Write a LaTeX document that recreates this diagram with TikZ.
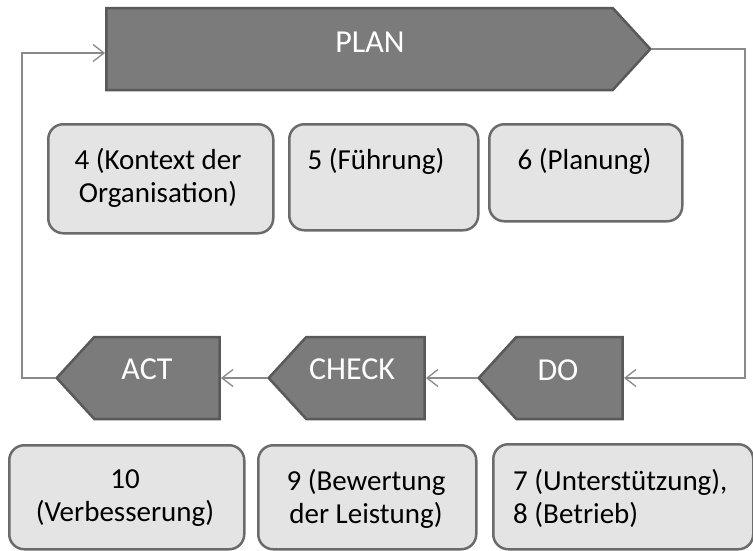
\documentclass[tikz,border=0pt]{standalone}
\usepackage{fontspec}
\setmainfont{Carlito}
\usetikzlibrary{shapes.symbols,arrows.meta}
\definecolor{sigfill}{HTML}{7B7B7B}
\definecolor{sigline}{HTML}{595959}
\definecolor{boxfill}{HTML}{E4E4E4}
\definecolor{boxline}{HTML}{6B6B6B}
\definecolor{conn}{HTML}{8A8A8A}
\tikzset{
  sig/.style={signal, draw=sigline, fill=sigfill, line width=2.5pt, inner sep=0pt,
    minimum height=82pt, signal pointer angle=95},
  sigtext/.style={text=white, font=\fontsize{32}{36}\selectfont, inner sep=0pt, anchor=base},
  clause/.style={draw=boxline, fill=boxfill, line width=2.5pt, rounded corners=15pt,
    inner sep=0pt, anchor=north west},
  clausetext/.style={font=\fontsize{29}{33}\selectfont, inner sep=0pt, anchor=north, align=center},
  conn/.style={draw=conn, line width=1.3pt, -{Straight Barb[length=11pt,width=17pt,line width=1.3pt]}}
}
\begin{document}
\begin{tikzpicture}[x=1pt,y=-1pt]
\useasboundingbox (0,0) rectangle (753,550);
% PDCA signals
\node[sig, signal to=east, minimum width=544pt, anchor=east] (plan) at (652,49) {};
\node[sig, signal to=west, minimum width=144pt, anchor=west] (do) at (477,378) {};
\node[sig, signal to=west, minimum width=156pt, anchor=west] (check) at (267,378) {};
\node[sig, signal to=west, minimum width=163pt, anchor=west] (act) at (55,378) {};
\node[sigtext] (plant) at (370,52) {PLAN};
\node[sigtext] (dot) at (558,380) {DO};
\node[sigtext] (checkt) at (352,379) {CHECK};
\node[sigtext] (actt) at (147,379) {ACT};
% clause boxes
\node[clause, minimum width=225pt, minimum height=109pt] (b4) at (47,123) {};
\node[clause, minimum width=189pt, minimum height=106pt] (b5) at (288,123) {};
\node[clause, minimum width=193pt, minimum height=97pt] (b6) at (488,123) {};
\node[clause, minimum width=235pt, minimum height=104pt] (b10) at (8,444) {};
\node[clause, minimum width=218pt, minimum height=104pt] (b9) at (257,444) {};
\node[clause, minimum width=260pt, minimum height=105pt] (b7) at (492,443) {};
\node[clausetext] (t4) at (158,148) {4 (Kontext der\\Organisation)};
\node[clausetext] (t5) at (376,148) {5 (Führung)};
\node[clausetext] (t6) at (584.5,148) {6 (Planung)};
\node[clausetext] (t10) at (125,469) {10\\(Verbesserung)};
\node[clausetext] (t9) at (366,469) {9 (Bewertung\\der Leistung)};
\node[clausetext, anchor=north west, align=left] (t7) at (513,469) {7 (Unterstützung),\\8 (Betrieb)};
% connectors
\coordinate (rightrail) at (745,0);
\coordinate (leftrail) at (22,0);
\draw[conn] (plan.east) -- (plan.east -| rightrail) |- (do.east);
\draw[conn] (do.west) -- (check.east);
\draw[conn] (check.west) -- (act.east);
\draw[conn] (act.west) -- (act.west -| leftrail) |- ([yshift=-4pt]plan.west);
\end{tikzpicture}
\end{document}
